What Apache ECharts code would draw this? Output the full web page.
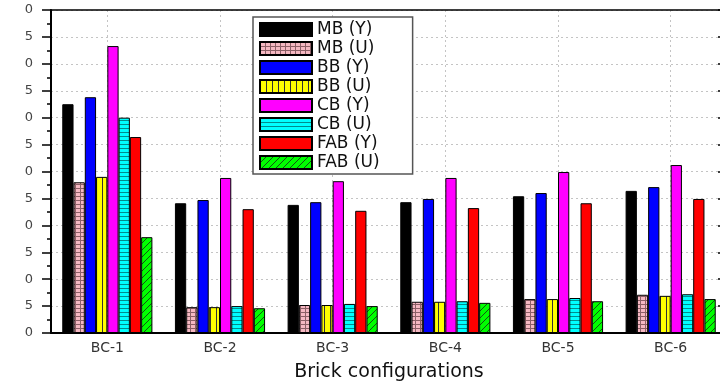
<!DOCTYPE html>
<html>
<head>
<meta charset="utf-8">
<script src="https://cdn.jsdelivr.net/npm/echarts@6/dist/echarts.min.js"></script>
<style>
  html, body { margin: 0; padding: 0; background: #fff; }
  #chart { width: 720px; height: 384px; }
</style>
</head>
<body>
<div id="chart"></div>
<script>
// values, one array per series
var categories = ["BC-1", "BC-2", "BC-3", "BC-4", "BC-5", "BC-6"];
var mbY  = [42.5, 24.1, 23.8, 24.3, 25.4, 26.4];
var mbU  = [28.0, 4.8, 5.2, 5.8, 6.3, 7.1];
var bbY  = [43.8, 24.7, 24.3, 24.9, 26.0, 27.1];
var bbU  = [29.0, 4.8, 5.2, 5.8, 6.3, 6.9];
var cbY  = [53.3, 28.8, 28.2, 28.8, 29.9, 31.2];
var cbU  = [40.0, 5.0, 5.4, 5.9, 6.5, 7.2];
var fabY = [36.4, 23.0, 22.7, 23.2, 24.1, 24.9];
var fabU = [17.8, 4.6, 5.0, 5.6, 5.9, 6.3];
var yMin = 0, yMax = 60, yStep = 5;
// half-category slots, used only to put the vertical grid lines on the category centres
var halfSlots = ["", "", "", "", "", "", "", "", "", "", "", "", ""];

var FONT = "DejaVu Sans";

// small canvas tiles for the hatched bars
function makePattern(bg, line, w, h, draw) {
  var c = document.createElement("canvas");
  c.width = w; c.height = h;
  var g = c.getContext("2d");
  g.fillStyle = bg;
  g.fillRect(0, 0, w, h);
  g.strokeStyle = line;
  g.lineWidth = 1;
  draw(g, w, h);
  return { image: c, repeat: "repeat" };
}

var pinkGrid = makePattern("#f5b8c2", "#8c5f66", 5, 4, function (g, w, h) {
  g.beginPath();
  g.moveTo(0.5, 0); g.lineTo(0.5, h);
  g.moveTo(0, 0.5); g.lineTo(w, 0.5);
  g.stroke();
});
var yellowVert = makePattern("#ffff00", "#333", 6, 2, function (g, w, h) {
  g.beginPath(); g.moveTo(0.5, 0); g.lineTo(0.5, h); g.stroke();
});
var cyanHoriz = makePattern("#00ffff", "#008c8c", 2, 4, function (g, w, h) {
  g.beginPath(); g.moveTo(0, 0.5); g.lineTo(w, 0.5); g.stroke();
});
var greenDiag = makePattern("#00ff00", "#145214", 7, 7, function (g, w, h) {
  g.beginPath();
  g.moveTo(0, h); g.lineTo(w, 0);
  g.moveTo(-1, 1); g.lineTo(1, -1);
  g.moveTo(w - 1, h + 1); g.lineTo(w + 1, h - 1);
  g.stroke();
});

function bar(name, data, color) {
  return {
    name: name,
    type: "bar",
    data: data,
    barGap: "0%",
    barCategoryGap: "20%",
    itemStyle: { color: color, borderColor: "#000", borderWidth: 1 }
  };
}

var gridLine = { color: "#c4c4c4", type: [2, 3], width: 1 };

var myChart = echarts.init(document.getElementById("chart"));
var option = {
  animation: false,
  backgroundColor: "#fff",
  grid: { left: 51, top: 10, right: -7, bottom: 51, outerBoundsMode: "none" },
  legend: {
    orient: "vertical",
    left: 253,
    top: 17,
    itemWidth: 52,
    itemHeight: 13,
    itemGap: 2,
    padding: [4, 33, 3, 6],
    icon: "rect",
    borderColor: "#555",
    borderWidth: 1.5,
    backgroundColor: "#fff",
    textStyle: { fontFamily: FONT, fontSize: 17, color: "#111" },
    data: ["MB (Y)", "MB (U)", "BB (Y)", "BB (U)", "CB (Y)", "CB (U)", "FAB (Y)", "FAB (U)"]
  },
  xAxis: [
    {
      type: "category",
      position: "bottom",
      data: categories,
      axisLine: { onZero: false, lineStyle: { color: "#000", width: 2 } },
      axisTick: { alignWithLabel: true, length: 7, lineStyle: { color: "#000", width: 2 } },
      axisLabel: { fontFamily: FONT, fontSize: 14, color: "#333", margin: 8 },
      splitLine: { show: false },
      name: "Brick configurations",
      nameLocation: "middle",
      nameGap: 30,
      nameTextStyle: { fontFamily: FONT, fontSize: 19, color: "#111" }
    },
    {
      type: "category",
      position: "bottom",
      data: categories,
      axisLine: { show: false, onZero: false },
      axisTick: { length: 4, lineStyle: { color: "#000", width: 1.5 } },
      axisLabel: { show: false },
      splitLine: { show: false }
    },
    {
      type: "category",
      position: "top",
      data: categories,
      axisLine: { onZero: false, lineStyle: { color: "#000", width: 1.5 } },
      axisTick: { inside: true, alignWithLabel: true, length: 6, lineStyle: { color: "#000", width: 2 } },
      axisLabel: { show: false },
      splitLine: { show: false }
    },
    {
      type: "category",
      position: "top",
      data: categories,
      axisLine: { show: false, onZero: false },
      axisTick: { inside: true, length: 3, lineStyle: { color: "#000", width: 1.5 } },
      axisLabel: { show: false },
      splitLine: { show: false }
    },
    {
      // hidden helper axis: vertical dotted lines through the category centres
      type: "category",
      position: "bottom",
      data: halfSlots,
      boundaryGap: false,
      axisLine: { show: false, onZero: false },
      axisTick: { show: false },
      axisLabel: { show: false },
      splitLine: {
        show: true,
        interval: function (i) { return i % 2 === 1; },
        lineStyle: gridLine
      }
    }
  ],
  yAxis: [
    {
      type: "value",
      position: "left",
      min: yMin,
      max: yMax,
      interval: yStep,
      axisLine: { show: true, onZero: false, lineStyle: { color: "#000", width: 2 } },
      axisTick: { show: true, length: 9, lineStyle: { color: "#000", width: 1.5 } },
      minorTick: { show: true, splitNumber: 2, length: 4, lineStyle: { color: "#000", width: 1.5 } },
      axisLabel: {
        fontFamily: FONT, fontSize: 13, color: "#444", margin: 18,
        formatter: function (v) { return String(v % 10); }
      },
      splitLine: { show: true, lineStyle: gridLine }
    },
    {
      type: "value",
      position: "right",
      min: yMin,
      max: yMax,
      interval: yStep,
      axisLine: { show: true, onZero: false, lineStyle: { color: "#000", width: 2 } },
      axisTick: { show: true, inside: true, length: 9, lineStyle: { color: "#000", width: 1.5 } },
      axisLabel: { show: false },
      splitLine: { show: false }
    }
  ],
  series: [
    bar("MB (Y)", mbY, "#000000"),
    bar("MB (U)", mbU, pinkGrid),
    bar("BB (Y)", bbY, "#0000ff"),
    bar("BB (U)", bbU, yellowVert),
    bar("CB (Y)", cbY, "#ff00ff"),
    bar("CB (U)", cbU, cyanHoriz),
    bar("FAB (Y)", fabY, "#ff0000"),
    bar("FAB (U)", fabU, greenDiag)
  ]
};
myChart.setOption(option);
</script>
</body>
</html>
